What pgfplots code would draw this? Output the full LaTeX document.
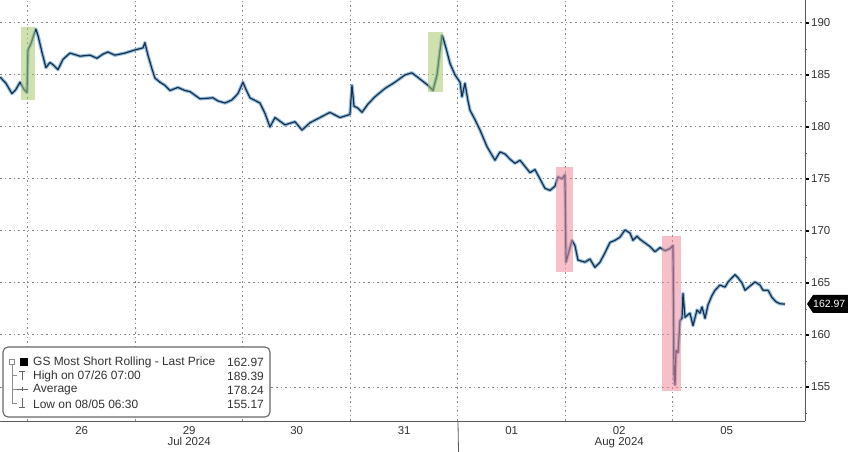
\documentclass[border=0pt]{standalone}
\usepackage{pgfplots}
\pgfplotsset{compat=1.18}
\usepackage{pgfplotstable}
\usepackage{fontspec}
\setmainfont{Liberation Sans}

\definecolor{gridc}{RGB}{135,135,135}
\definecolor{linec}{RGB}{30,45,70}
\definecolor{glowc}{RGB}{140,190,228}
\definecolor{boxg}{RGB}{165,200,110}
\definecolor{boxr}{RGB}{240,140,155}
\definecolor{txt}{RGB}{50,50,50}

% x = trading day index (0 = open of Jul 26), y = basket price
\pgfplotstableread{
x y
-0.260 184.8
-0.205 184.2
-0.149 183.2
-0.112 183.6
-0.074 184.3
-0.037 183.6
-0.009 183.3
0.000 187.4
0.028 188.0
0.056 188.9
0.074 189.4
0.093 188.8
0.130 187.2
0.167 185.7
0.205 186.2
0.242 185.9
0.279 185.5
0.326 186.5
0.391 187.1
0.484 186.8
0.577 186.9
0.642 186.6
0.698 187.0
0.744 187.2
0.809 186.9
0.902 187.1
0.995 187.4
1.070 187.6
1.088 188.1
1.116 186.9
1.153 185.6
1.181 184.7
1.228 184.3
1.274 184.0
1.321 183.5
1.395 183.8
1.460 183.5
1.507 183.4
1.600 182.7
1.721 182.8
1.767 182.5
1.833 182.3
1.898 182.6
1.953 183.2
2.000 184.3
2.028 183.6
2.065 182.8
2.158 182.3
2.205 181.3
2.251 180.0
2.298 180.9
2.391 180.2
2.484 180.5
2.549 179.7
2.623 180.4
2.716 180.9
2.809 181.4
2.902 180.9
2.995 181.2
3.014 184.0
3.033 182.0
3.070 181.8
3.107 181.4
3.163 182.2
3.228 182.9
3.321 183.7
3.414 184.3
3.507 185.0
3.572 185.2
3.647 184.6
3.721 184.0
3.767 183.5
3.805 185.0
3.833 187.4
3.851 188.8
3.860 188.6
3.888 187.6
3.926 186.1
3.972 185.0
4.019 184.3
4.037 182.9
4.065 184.2
4.093 182.5
4.112 181.6
4.158 180.7
4.205 179.7
4.270 178.1
4.344 176.8
4.391 177.6
4.437 177.4
4.484 176.9
4.530 176.5
4.577 176.8
4.670 175.6
4.716 175.9
4.763 175.0
4.809 174.1
4.856 173.9
4.902 174.3
4.930 175.2
4.967 175.0
4.995 175.4
5.005 167.0
5.042 168.4
5.060 169.1
5.088 168.6
5.116 167.2
5.181 167.0
5.228 167.3
5.274 166.5
5.321 167.0
5.367 167.9
5.414 168.9
5.460 169.1
5.507 169.4
5.553 170.1
5.600 169.8
5.628 169.1
5.665 169.5
5.693 169.2
5.786 168.5
5.833 168.0
5.879 168.4
5.926 168.1
5.972 168.3
6.000 168.6
6.009 156.3
6.019 155.2
6.028 158.5
6.047 158.3
6.065 161.4
6.084 161.6
6.093 164.0
6.112 161.7
6.158 162.1
6.186 160.9
6.223 162.4
6.251 162.1
6.270 162.7
6.298 161.6
6.326 162.9
6.363 163.8
6.391 164.3
6.437 164.8
6.484 164.6
6.512 165.1
6.549 165.5
6.577 165.8
6.605 165.5
6.642 165.0
6.670 164.3
6.716 164.7
6.763 165.1
6.809 164.8
6.837 164.3
6.884 164.3
6.921 163.6
6.958 163.2
6.995 163.0
7.042 162.97
}\gsshort

\begin{document}
\begin{tikzpicture}
\begin{axis}[
    at={(0bp,31bp)}, anchor=south west,
    scale only axis, width=805bp, height=421bp,
    xmin=-0.26, xmax=7.228, ymin=151.73, ymax=192.2,
    axis x line*=bottom, axis y line*=right,
    axis line style={-, draw=black!65, line width=0.8bp},
    xtick={0.5,1.5,2.5,3.5,4.5,5.5,6.5},
    xticklabels={26,{29\\Jul 2024},30,31,01,{02\\Aug 2024},05},
    xticklabel style={align=center, font=\fontsize{11.5}{11.5}\selectfont, text=txt, inner sep=1bp},
    major x tick style={draw=none},
    minor xtick={0,1,2,3,4,5,6},
    minor x tick style={draw=none},
    xminorgrids=true,
    ytick={155,160,165,170,175,180,185,190},
    minor ytick={152.5,157.5,162.5,167.5,172.5,177.5,182.5,187.5},
    ymajorgrids=true,
    grid style={gridc, dash pattern=on 1.6bp off 3bp, line width=1bp},
    minor grid style={gridc, dash pattern=on 1.6bp off 3bp, line width=1bp},
    tick align=outside,
    major tick length=4bp, minor tick length=2bp,
    major y tick style={black, line width=1.3bp},
    minor y tick style={black!60, line width=0.6bp},
    yticklabel style={font=\fontsize{11.5}{12}\selectfont, text=txt, inner sep=2bp},
    /pgf/number format/assume math mode=true,
    clip=false,
]
    % glow and price line
    \addplot[glowc, line width=3.4bp, no markers, line join=round] table {\gsshort};
    \addplot[linec, line width=1.2bp, no markers, line join=round] table {\gsshort};

    % highlight boxes
    \fill[boxg, opacity=0.55] (axis cs:-0.065,182.6) rectangle (axis cs:0.065,189.6);
    \fill[boxg, opacity=0.55] (axis cs:3.721,183.35) rectangle (axis cs:3.860,189.1);
    \fill[boxr, opacity=0.55] (axis cs:4.912,166.05) rectangle (axis cs:5.070,176.14);
    \fill[boxr, opacity=0.55] (axis cs:5.898,154.6) rectangle (axis cs:6.074,169.51);

    % month separator
    \draw[black!65, line width=0.8bp] (axis cs:4,151.73) -- ++(0,-31bp);
\end{axis}

% last price tag on the right axis (162.97)
\fill[black] (807bp,148bp) -- (813bp,157bp) -- (850bp,157bp) -- (850bp,139bp) -- (813bp,139bp) -- cycle;
\node[white, anchor=west, font=\fontsize{10.5}{12}\selectfont, inner sep=0] at (813bp,148bp) {162.97};

% legend panel
\begin{scope}[font=\fontsize{12}{13}\selectfont, text=txt]
    \draw[black!60, fill=white, rounded corners=5bp, line width=1.1bp] (3bp,35bp) rectangle (270bp,105bp);
    \draw[black!45, line width=0.6bp] (9.5bp,87.5bp) rectangle (14.5bp,92.5bp);
    \fill[black] (20bp,86bp) rectangle (28bp,94bp);
    \draw[black!45, line width=0.6bp] (12bp,87.5bp) -- (12bp,49bp) -- (17bp,49bp);
    \draw[black!45, line width=0.6bp] (12bp,77bp) -- (17bp,77bp);
    \draw[black!45, line width=0.6bp] (12bp,63bp) -- (17bp,63bp);
    \draw[black!60, line width=0.6bp] (19bp,81bp) -- (25bp,81bp) (22bp,81bp) -- (22bp,72bp);
    \draw[black!60, line width=0.6bp] (17bp,63bp) -- (28bp,63bp) (22bp,61bp) -- (22bp,65bp);
    \draw[black!60, line width=0.6bp] (22bp,54bp) -- (22bp,45bp) (19bp,45bp) -- (25bp,45bp);
    \node[anchor=west, inner sep=0] at (33bp,90bp) {GS Most Short Rolling - Last Price};
    \node[anchor=west, inner sep=0] at (33bp,76bp) {High on 07/26 07:00};
    \node[anchor=west, inner sep=0] at (33bp,62bp) {Average};
    \node[anchor=west, inner sep=0] at (33bp,48bp) {Low on 08/05 06:30};
    \node[anchor=east, inner sep=0] at (264bp,90bp) {162.97};
    \node[anchor=east, inner sep=0] at (264bp,76bp) {189.39};
    \node[anchor=east, inner sep=0] at (264bp,62bp) {178.24};
    \node[anchor=east, inner sep=0] at (264bp,48bp) {155.17};
\end{scope}

\pgfresetboundingbox
\path[use as bounding box] (0bp,0bp) rectangle (848bp,452bp);
\end{tikzpicture}
\end{document}
